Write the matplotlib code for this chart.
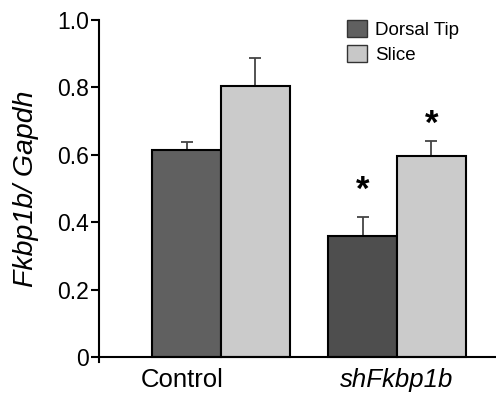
import matplotlib
matplotlib.use("Agg")
import matplotlib.pyplot as plt
import numpy as np
from matplotlib.patches import Patch

plt.rcParams['font.family'] = ['Liberation Sans', 'DejaVu Sans']

groups = ["Control", "shFkbp1b"]
series = ["Dorsal Tip", "Slice"]
dorsal = [0.613, 0.359]
dorsal_err = [0.025, 0.055]
slice_ = [0.803, 0.596]
slice_err = [0.084, 0.045]
dorsal_colors = ["#606060", "#4e4e4e"]
slice_colors = ["#cbcbcb", "#cbcbcb"]
yticks = [0, 0.2, 0.4, 0.6, 0.8, 1.0]
yticklabels = ["0", "0.2", "0.4", "0.6", "0.8", "1.0"]
# significance markers: (group index, series index, marker level)
stars = [(1, 0, 0.494), (1, 1, 0.69)]

W, H = 496, 395
fig = plt.figure(figsize=(W / 100, H / 100), dpi=100)
ax = fig.add_axes([99 / W, 32.6 / H, 1 - 99 / W, (395 - 32.6 - 20) / H])

x = np.arange(len(groups))
bw = 0.39
ax.bar(x - bw / 2, dorsal, bw, color=dorsal_colors, edgecolor="black", linewidth=1.5, zorder=2)
ax.bar(x + bw / 2, slice_, bw, color=slice_colors, edgecolor="black", linewidth=1.5, zorder=2)
ax.errorbar(x - bw / 2, dorsal, yerr=[np.zeros(2), dorsal_err], fmt="none",
            ecolor="#444444", elinewidth=1.3, capsize=4, capthick=1.3, zorder=1)
ax.errorbar(x + bw / 2, slice_, yerr=[np.zeros(2), slice_err], fmt="none",
            ecolor="#444444", elinewidth=1.3, capsize=4, capthick=1.3, zorder=1)

for gi, si, lev in stars:
    xs = x[gi] + (-bw / 2 if si == 0 else bw / 2)
    ax.text(xs, lev, "*", ha="center", va="center", fontsize=25, fontweight="bold")

ax.set_xlim(-0.693, 1.5625)
ax.set_ylim(-0.016, 1.0)
ax.spines['top'].set_visible(False)
ax.spines['right'].set_visible(False)
ax.spines['bottom'].set_position(('data', 0))
ax.spines['left'].set_linewidth(1.5)
ax.spines['bottom'].set_linewidth(1.5)

ax.set_yticks(yticks)
ax.set_yticklabels(yticklabels, fontsize=16.5)
ax.tick_params(axis='y', direction='out', length=6, width=1.5, pad=1)
ax.set_xticks([-0.22, 1.0])
ax.set_xticklabels(groups)
ax.tick_params(axis='x', length=0, pad=8)
for lab, st in zip(ax.get_xticklabels(), ["normal", "italic"]):
    lab.set_fontstyle(st)
    lab.set_fontsize(18.5)

ax.set_ylabel("Fkbp1b/ Gapdh", fontsize=20.5, fontstyle="italic")
ax.yaxis.set_label_coords(-0.152, 0.506)

handles = [Patch(facecolor="#606060", edgecolor="#333333", linewidth=1.0),
           Patch(facecolor="#c8c8c8", edgecolor="#333333", linewidth=1.0)]
leg = ax.legend(handles, series, loc="upper left", bbox_to_anchor=(347 / W, 1 - 20 / H),
                bbox_transform=fig.transFigure, frameon=False, fontsize=13.5,
                handlelength=1.05, handleheight=1.05, handletextpad=0.45,
                labelspacing=0.3, borderpad=0, borderaxespad=0)

fig.savefig("out.png", dpi=100)
